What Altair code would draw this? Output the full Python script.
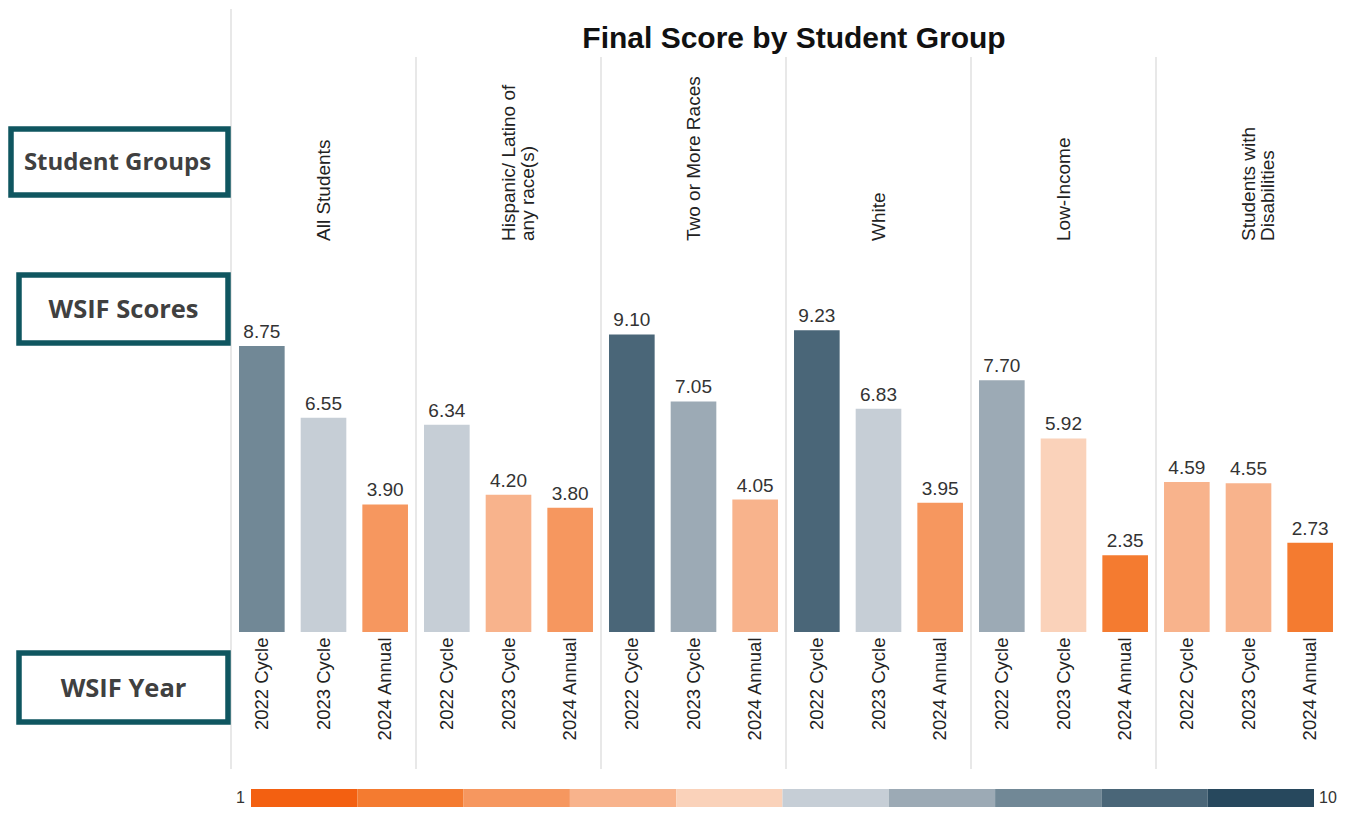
import altair as alt
import pandas as pd
import numpy as np

# ---------------- data ----------------
groups = ["All Students", "Hispanic/ Latino of\nany race(s)", "Two or More Races",
          "White", "Low-Income", "Students with\nDisabilities"]
years = ["2022 Cycle", "2023 Cycle", "2024 Annual"]
score_2022 = [8.75, 6.34, 9.10, 9.23, 7.70, 4.59]
score_2023 = [6.55, 4.20, 7.05, 6.83, 5.92, 4.55]
score_2024 = [3.90, 3.80, 4.05, 3.95, 2.35, 2.73]

palette = ["#F36011", "#F47B30", "#F6975F", "#F8B38C", "#FAD2BA",
           "#C6CED6", "#9CAAB5", "#718896", "#4A6678", "#27485D"]
thresholds = [2, 3, 4, 5, 6, 7, 8, 9, 10]
legend_min, legend_max = 1, 10

title_text = "Final Score by Student Group"
side_labels = ["Student Groups", "WSIF Scores", "WSIF Year"]

# ---------------- tables ----------------
rows = []
for gi, g in enumerate(groups):
    for yr, vals in zip(years, [score_2022, score_2023, score_2024]):
        rows.append({"key": f"{gi}|{yr}", "group": g, "year": yr, "score": vals[gi]})
df = pd.DataFrame(rows)
keys = list(df["key"])

hdr = pd.DataFrame({"key": [f"{i}|{years[1]}" for i in range(len(groups))], "label": groups})
sep_first = pd.DataFrame({"key": [f"0|{years[0]}"]})
sep_rest = pd.DataFrame({"key": [f"{i}|{years[0]}" for i in range(1, len(groups))]})

edges = np.linspace(legend_min, legend_max, len(palette) + 1)
leg = pd.DataFrame({"lo": edges[:-1], "hi": edges[1:], "c": list(range(1, len(palette) + 1))})
leg_lo = pd.DataFrame({"v": [legend_min], "t": [str(legend_min)]})
leg_hi = pd.DataFrame({"v": [legend_max], "t": [str(legend_max)]})
one = pd.DataFrame({"a": [0]})

W, H = 1110, 327
FONT = "Liberation Sans"
TEAL = "#0F5660"

xenc = alt.X("key:N",
             scale=alt.Scale(domain=keys, paddingInner=0, paddingOuter=0),
             axis=alt.Axis(title=None, labelExpr="split(datum.label, '|')[1]",
                           labelAngle=-90, ticks=False, domain=False,
                           labelFontSize=18.5, labelFont=FONT, labelColor="#222222",
                           labelPadding=5))
yenc = alt.Y("score:Q", scale=alt.Scale(domain=[0, 10], nice=False), axis=None)
cscale = alt.Scale(type="threshold", domain=thresholds, range=palette)

bars = alt.Chart(df).mark_bar(width=alt.RelativeBandSize(0.74)).encode(
    x=xenc, y=yenc,
    color=alt.Color("score:Q", scale=cscale, legend=None))

values = alt.Chart(df).mark_text(baseline="alphabetic", dy=-8, fontSize=19,
                                 font=FONT, color="#333333").encode(
    x=alt.X("key:N"), y=alt.Y("score:Q"), text=alt.Text("score:Q", format=".2f"))

headers = alt.Chart(hdr).mark_text(angle=270, align="left", baseline="middle",
                                   fontSize=19, font=FONT, color="#222222",
                                   lineBreak="\n", lineHeight=19).encode(
    x=alt.X("key:N"), y=alt.value(-64), text="label:N")

rule1 = alt.Chart(sep_first).mark_rule(color="#D9D9D9", strokeWidth=1.2).encode(
    x=alt.X("key:N", bandPosition=0), y=alt.value(-296), y2=alt.value(464))
rule2 = alt.Chart(sep_rest).mark_rule(color="#D9D9D9", strokeWidth=1.2).encode(
    x=alt.X("key:N", bandPosition=0), y=alt.value(-248), y2=alt.value(464))

title = alt.Chart(one).mark_text(fontSize=30, fontWeight="bold", font=FONT,
                                 color="#111111", baseline="middle", align="center").encode(
    x=alt.value(W / 2 + 8), y=alt.value(-266), text=alt.value(title_text))

boxes = []
box_geo = [(-220, -3, -176, -110), (-212, -3, -30, 38), (-212, -3, 348, 417)]
text_dx = [-2, 0, 0]
text_size = [24, 25.5, 25.5]
for (x1, x2, y1, y2), lab, tdx, ts in zip(box_geo, side_labels, text_dx, text_size):
    boxes.append(alt.Chart(one).mark_rect(fill="white", stroke=TEAL, strokeWidth=5.5).encode(
        x=alt.value(x1), x2=alt.value(x2), y=alt.value(y1), y2=alt.value(y2)))
    boxes.append(alt.Chart(one).mark_text(font="Open Sans", fontWeight="bold", fontSize=ts,
                                          color="#404040", baseline="middle", align="center").encode(
        x=alt.value((x1 + x2) / 2 + tdx), y=alt.value((y1 + y2) / 2 + 1), text=alt.value(lab)))

main = alt.layer(rule1, rule2, bars, values, headers, title, *boxes)

lscale = alt.Scale(domain=[legend_min, legend_max], range=[20, 1083], nice=False, zero=False)
cbar = alt.Chart(leg).mark_rect().encode(
    x=alt.X("lo:Q", scale=lscale, axis=None), x2="hi:Q",
    y=alt.value(484), y2=alt.value(502),
    color=alt.Color("c:Q", scale=cscale, legend=None))
lab_lo = alt.Chart(leg_lo).mark_text(align="right", dx=-6, baseline="middle", fontSize=16,
                                     font=FONT, color="#333333").encode(
    x=alt.X("v:Q", scale=lscale, axis=None), y=alt.value(493), text="t:N")
lab_hi = alt.Chart(leg_hi).mark_text(align="left", dx=5, baseline="middle", fontSize=16,
                                     font=FONT, color="#333333").encode(
    x=alt.X("v:Q", scale=lscale, axis=None), y=alt.value(493), text="t:N")
legend = alt.layer(cbar, lab_lo, lab_hi)

chart = alt.layer(main, legend).resolve_scale(x="independent").properties(
    width=W, height=H, padding=0, background="white"
).configure_view(stroke=None)

chart.save("out.html", embed_options={"renderer": "svg", "actions": False})
